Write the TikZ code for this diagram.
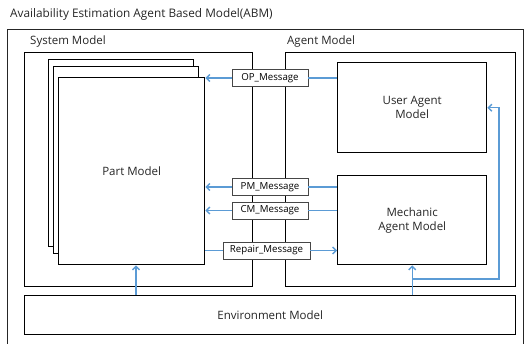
\documentclass[tikz,border=0pt]{standalone}
\usepackage{fontspec}
\setmainfont{Open Sans}
\usetikzlibrary{arrows.meta}
\definecolor{flowblue}{RGB}{91,155,213}
\definecolor{msgline}{RGB}{70,70,70}
\tikzset{
  box/.style={draw=black, line width=1.4pt, fill=white, inner sep=0pt, anchor=north west},
  msg/.style={draw=msgline, line width=0.7pt, fill=white, inner sep=0pt,
              minimum height=17pt, font=\fontsize{9.7}{11}\selectfont},
  flow/.style={draw=flowblue, line width=1.4pt},
  flowarrow/.style={flow, -{Straight Barb[length=3.5pt, width=7pt, line width=1.4pt]}},
  caption/.style={font=\fontsize{11.5}{14}\selectfont, text=black!85, inner sep=0pt},
}
\begin{document}
\begin{tikzpicture}[x=1pt, y=-1pt]
\useasboundingbox (0,0) rectangle (524,344);

% title and outer frame (open at the bottom)
\node[caption, anchor=west, font=\fontsize{11.8}{14}\selectfont] (title) at (10,14) {Availability Estimation Agent Based Model(ABM)};
\draw[line width=0.8pt, black!85] (7,350) -- (7,29) -- (523.5,29) -- (523.5,350);

% group boxes
\node[box, minimum width=228pt, minimum height=234pt] (sys) at (24,52) {};
\node[box, minimum width=230pt, minimum height=234pt] (agent) at (285,52) {};
\node[caption, anchor=west] (syslbl) at (30,42) {System Model};
\node[caption, anchor=west] (agentlbl) at (287,42) {Agent Model};

% stacked part models
\node[box, minimum width=145pt, minimum height=187pt] (part3) at (48,59) {};
\node[box, minimum width=145pt, minimum height=187pt] (part2) at (53,66) {};
\node[box, minimum width=146pt, minimum height=187pt] (part1) at (58,77) {};
\node[caption] (partlbl) at (part1.center) {Part Model};

% agents
\node[box, minimum width=149pt, minimum height=90pt] (user) at (337,62) {};
\node[caption, align=center] (userlbl) at (user.center) {User Agent\\Model};
\node[box, minimum width=149pt, minimum height=89pt] (mech) at (337,175) {};
\node[caption, align=center] (mechlbl) at (mech.center) {Mechanic\\Agent Model};

% environment
\node[box, minimum width=491pt, minimum height=39pt] (env) at (24,295) {};
\node[caption] (envlbl) at (env.center) {Environment Model};

% message labels
\node[msg, minimum width=76pt] (op) at (270,78) {OP\_Message};
\node[msg, minimum width=76pt] (pm) at (270,187) {PM\_Message};
\node[msg, minimum width=76pt] (cm) at (270,210.5) {CM\_Message};
\node[msg, minimum width=87pt] (rep) at (266.5,250.5) {Repair\_Message};

% message flows
\draw[flow] (op.east) -- (op.east -| user.west);
\draw[flowarrow] (op.west) -- (op.west -| part1.east);
\draw[flow] (pm.east) -- (pm.east -| mech.west);
\draw[flowarrow] (pm.west) -- (pm.west -| part1.east);
\draw[flow] (cm.east) -- (cm.east -| mech.west);
\draw[flowarrow] (cm.west) -- (cm.west -| part1.east);
\draw[flow] (rep.west -| part1.east) -- (rep.west);
\draw[flowarrow] (rep.east) -- (rep.east -| mech.west);

% environment feeds
\coordinate (envpart) at (136,295);
\coordinate (loopc) at (499,279);
\draw[flowarrow] (envpart) -- (envpart |- part1.south);
\draw[flowarrow] (env.north -| mech.south) -- (mech.south);
\draw[flowarrow] (env.north -| mech.south) |- (loopc) |- (user.east);
\end{tikzpicture}
\end{document}
